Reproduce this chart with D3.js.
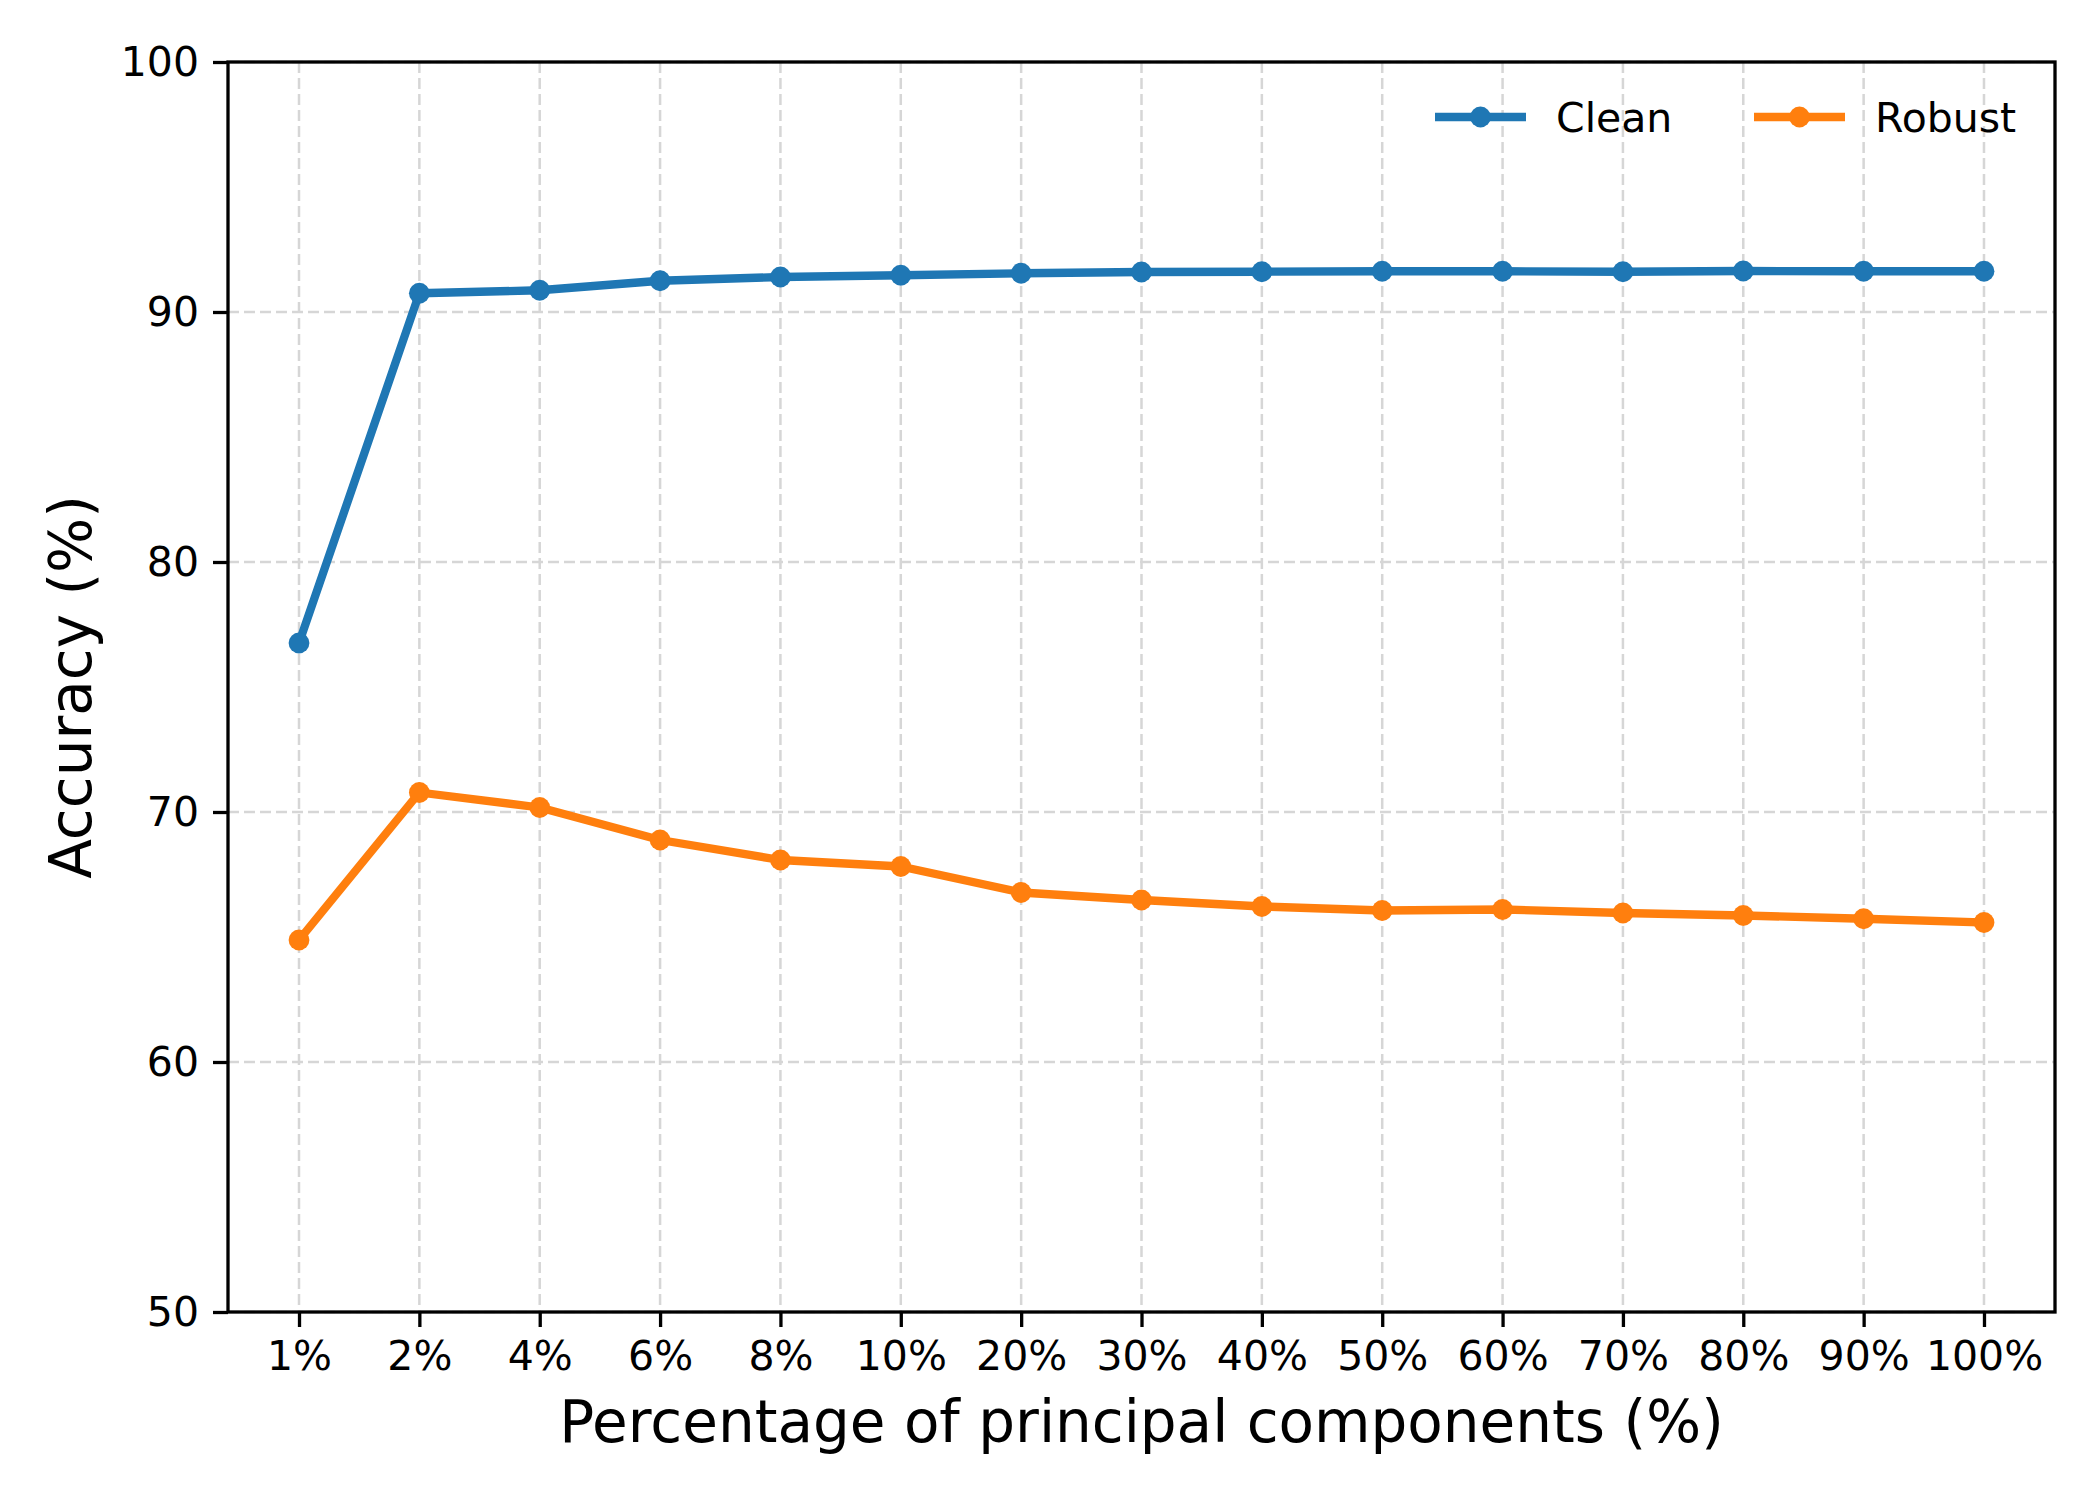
<!DOCTYPE html>
<html>
<head>
<meta charset="utf-8">
<script src="https://cdn.jsdelivr.net/npm/d3@7"></script>
<style>
  body { margin: 0; background: #fff; }
  svg { font-family: "DejaVu Sans", sans-serif; }
</style>
</head>
<body>
<svg width="2100" height="1500"></svg>
<script>
const categories = ['1%', '2%', '4%', '6%', '8%', '10%', '20%', '30%', '40%', '50%', '60%', '70%', '80%', '90%', '100%'];
const clean = [76.76, 90.75, 90.87, 91.25, 91.4, 91.47, 91.55, 91.6, 91.61, 91.63, 91.63, 91.61, 91.64, 91.63, 91.63];
const robust = [64.88, 70.78, 70.18, 68.88, 68.08, 67.82, 66.78, 66.48, 66.22, 66.06, 66.1, 65.96, 65.86, 65.73, 65.58];
const yTicks = [50, 60, 70, 80, 90, 100];

const series = [
    { name: 'Clean', values: clean, color: '#1f77b4' },
    { name: 'Robust', values: robust, color: '#ff7f0e' },
];

const svg = d3.select('svg');
const plotLeft = 228, plotRight = 2055, plotTop = 62, plotBottom = 1312;

const x = d3.scaleLinear().domain([-0.59, categories.length - 1 + 0.59]).range([plotLeft, plotRight]);
const y = d3.scaleLinear().domain([50, 100]).range([plotBottom, plotTop]);

// grid
const grid = svg.append('g')
    .attr('stroke', '#d6d6d6')
    .attr('stroke-width', 2.5)
    .attr('stroke-dasharray', '11,5');
grid.selectAll('line.gx')
    .data(categories)
    .enter()
    .append('line')
    .attr('class', 'gx')
    .attr('x1', (d, i) => x(i)).attr('x2', (d, i) => x(i))
    .attr('y1', plotTop).attr('y2', plotBottom);
grid.selectAll('line.gy')
    .data(yTicks)
    .enter()
    .append('line')
    .attr('class', 'gy')
    .attr('x1', plotLeft).attr('x2', plotRight)
    .attr('y1', d => y(d)).attr('y2', d => y(d));

// axes
const xAxis = d3.axisBottom(x)
    .tickValues(d3.range(categories.length))
    .tickFormat(i => categories[i])
    .tickSize(15)
    .tickPadding(14)
    .tickSizeOuter(0);
const yAxis = d3.axisLeft(y)
    .tickValues(yTicks)
    .tickSize(15)
    .tickPadding(14)
    .tickSizeOuter(0);

svg.append('g')
    .attr('transform', `translate(0,${plotBottom})`)
    .call(xAxis)
    .call(g => g.select('.domain').remove())
    .call(g => g.selectAll('line').attr('stroke-width', 3.3))
    .call(g => g.selectAll('text').attr('font-size', 41).attr('font-family', 'DejaVu Sans').attr('fill', '#000'));

svg.append('g')
    .attr('transform', `translate(${plotLeft},0)`)
    .call(yAxis)
    .call(g => g.select('.domain').remove())
    .call(g => g.selectAll('line').attr('stroke-width', 3.3))
    .call(g => g.selectAll('text').attr('font-size', 41).attr('font-family', 'DejaVu Sans').attr('fill', '#000'));

// lines
const line = d3.line()
    .x((d, i) => x(i))
    .y(d => y(d));

series.forEach(s => {
    svg.append('path')
        .datum(s.values)
        .attr('d', line)
        .attr('fill', 'none')
        .attr('stroke', s.color)
        .attr('stroke-width', 8.3)
        .attr('stroke-linejoin', 'round')
        .attr('stroke-linecap', 'square');
    svg.append('g')
        .selectAll('circle')
        .data(s.values)
        .enter()
        .append('circle')
        .attr('cx', (d, i) => x(i))
        .attr('cy', d => y(d))
        .attr('r', 10.4)
        .attr('fill', s.color);
});

// frame
svg.append('rect')
    .attr('x', plotLeft).attr('y', plotTop)
    .attr('width', plotRight - plotLeft).attr('height', plotBottom - plotTop)
    .attr('fill', 'none')
    .attr('stroke', '#000')
    .attr('stroke-width', 3.3);

// legend
const legendX = [1435, 1754];
const legend = svg.selectAll('g.legend')
    .data(series)
    .enter()
    .append('g')
    .attr('class', 'legend')
    .attr('transform', (d, i) => `translate(${legendX[i]},117)`);
legend.append('line')
    .attr('x1', 0).attr('x2', 91)
    .attr('stroke', d => d.color)
    .attr('stroke-width', 8.3);
legend.append('circle')
    .attr('cx', 45.5)
    .attr('r', 10.4)
    .attr('fill', d => d.color);
legend.append('text')
    .attr('x', 121)
    .attr('dy', '0.36em')
    .attr('font-size', 41)
    .text(d => d.name);

// axis labels
svg.append('text')
    .attr('x', (plotLeft + plotRight) / 2)
    .attr('y', 1442)
    .attr('text-anchor', 'middle')
    .attr('font-size', 58)
    .text('Percentage of principal components (%)');

svg.append('text')
    .attr('transform', `translate(91,${(plotTop + plotBottom) / 2}) rotate(-90)`)
    .attr('text-anchor', 'middle')
    .attr('font-size', 58)
    .text('Accuracy (%)');
</script>
</body>
</html>
